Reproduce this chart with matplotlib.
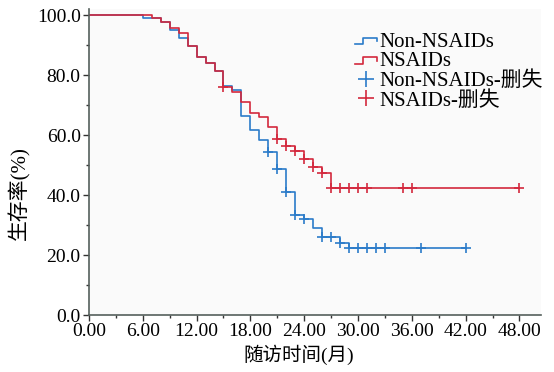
import numpy as np
import matplotlib.pyplot as plt
from matplotlib.lines import Line2D
from matplotlib.legend_handler import HandlerBase
from matplotlib.ticker import MultipleLocator, FormatStrFormatter

plt.rcParams['font.family'] = ['Liberation Serif', 'Noto Sans CJK SC']

# 生存曲线数据 (月, %)
non_t = [0, 6, 8, 9, 10, 11, 12, 13, 14, 15, 16, 17, 18, 19, 20, 21, 22, 23, 24, 25, 26, 28, 29]
non_s = [100, 98.9, 97.8, 95.0, 92.2, 89.8, 86.1, 84.0, 81.3, 76.5, 75.0, 66.3, 61.7, 58.3,
         54.5, 48.7, 41.0, 33.3, 32.0, 29.0, 25.9, 24.0, 22.2]
non_end = 42
non_cens = [20, 21, 22, 23, 24, 26, 27, 28, 29, 30, 31, 32, 33, 37, 42]

nsa_t = [0, 7, 8, 9, 10, 11, 12, 13, 14, 15, 16, 17, 18, 19, 20, 21, 22, 23, 24, 25, 26, 27]
nsa_s = [100, 98.9, 97.8, 95.6, 93.9, 89.8, 86.1, 84.0, 81.3, 76.0, 74.3, 71.0, 67.3, 66.0,
         62.7, 58.7, 56.3, 54.7, 52.0, 49.3, 47.3, 42.2]
nsa_end = 48
nsa_cens = [15, 21, 22, 23, 24, 25, 26, 27, 28, 29, 30, 31, 35, 36, 48]

blue = '#2b7bc9'
red = '#d3283d'
labels = ['Non-NSAIDs', 'NSAIDs', 'Non-NSAIDs-删失', 'NSAIDs-删失']


def surv_at(t, s, x):
    idx = np.searchsorted(t, x, side='right') - 1
    return np.array(s)[idx]


class StepHandler(HandlerBase):
    def create_artists(self, legend, orig, xd, yd, w, h, fs, trans):
        xs = [xd, xd + w * 0.35, xd + w * 0.35, xd + w * 0.95, xd + w * 0.95]
        ys = [h * 0.15 - yd, h * 0.15 - yd, h * 0.6 - yd, h * 0.6 - yd, h * 0.35 - yd]
        ln = Line2D(xs, ys, color=orig.get_color(), lw=1.2)
        ln.set_transform(trans)
        return [ln]


fig = plt.figure(figsize=(5.54, 3.72), dpi=100)
ax = fig.add_axes([0.1606, 0.1532, 0.8159, 0.8226])
ax.set_facecolor('#fafafa')

ax.step(non_t + [non_end], non_s + [non_s[-1]], where='post', color=blue, lw=1.2)
ax.step(nsa_t + [nsa_end], nsa_s + [nsa_s[-1]], where='post', color=red, lw=1.2)
ax.plot(non_cens, surv_at(non_t, non_s, non_cens), '+', color=blue, ms=7, mew=1.2)
ax.plot(nsa_cens, surv_at(nsa_t, nsa_s, nsa_cens), '+', color=red, ms=7, mew=1.2)

ax.set_xlim(0, 50.4)
ax.set_ylim(0, 102)
ax.xaxis.set_major_locator(MultipleLocator(6))
ax.xaxis.set_minor_locator(MultipleLocator(3))
ax.yaxis.set_major_locator(MultipleLocator(20))
ax.yaxis.set_minor_locator(MultipleLocator(10))
ax.xaxis.set_major_formatter(FormatStrFormatter('%.2f'))
ax.yaxis.set_major_formatter(FormatStrFormatter('%.1f'))

for side in ['top', 'right']:
    ax.spines[side].set_visible(False)
for side in ['left', 'bottom']:
    ax.spines[side].set_color('#55605c')
    ax.spines[side].set_linewidth(1.2)
ax.tick_params(which='major', length=4, width=1, color='#333333', labelsize=14, pad=2)
ax.tick_params(which='minor', length=2.5, width=1, color='#333333')

ax.set_xlabel('随访时间(月)', fontsize=14)
ax.set_ylabel('生存率(%)', fontsize=15)
ax.xaxis.set_label_coords(0.465, -0.098)
ax.yaxis.set_label_coords(-0.13, 0.40)

h1 = Line2D([], [], color=blue)
h2 = Line2D([], [], color=red)
h3 = Line2D([], [], color=blue, marker='+', ls='none', ms=11, mew=1.2)
h4 = Line2D([], [], color=red, marker='+', ls='none', ms=11, mew=1.2)
ax.legend([h1, h2, h3, h4], labels, loc='upper left', bbox_to_anchor=(355 / 554, 1 - 32 / 372),
          bbox_transform=fig.transFigure, frameon=False, fontsize=15, handlelength=1.1,
          handletextpad=0.05, labelspacing=0.0, borderpad=0, borderaxespad=0,
          handler_map={h1: StepHandler(), h2: StepHandler()})

fig.savefig('out.png', dpi=100)
